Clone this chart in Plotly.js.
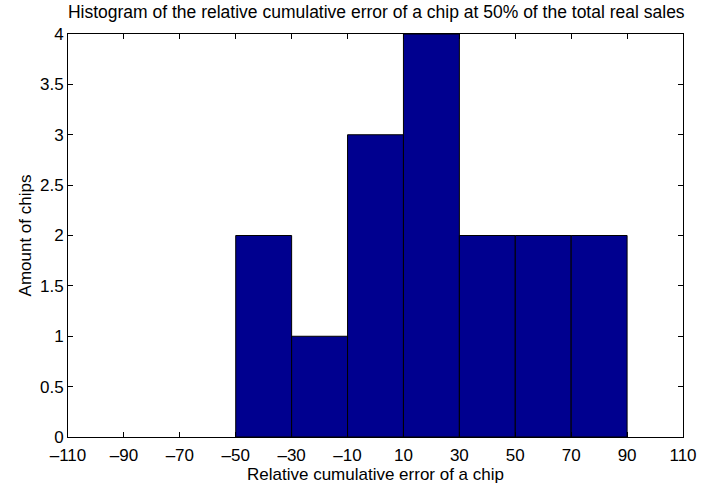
<!DOCTYPE html>
<html><head><meta charset="utf-8">
<script src="https://cdn.plot.ly/plotly-3.0.1.min.js"></script>
<style>html,body{margin:0;padding:0;background:#fff}#c{width:714px;height:489px}</style>
</head><body><div id="c"></div>
<script>
const binCenters = [-40, -20, 0, 20, 40, 60, 80];
const counts = [2, 1, 3, 4, 2, 2, 2];
const xTicks = [-110, -90, -70, -50, -30, -10, 10, 30, 50, 70, 90, 110];
const xTickText = xTicks.map(v => (v < 0 ? '\u2013' + Math.abs(v) : String(v)));
const yTicks = [0, 0.5, 1, 1.5, 2, 2.5, 3, 3.5, 4];

const font = {family: 'Liberation Sans, Arial, sans-serif', size: 17, color: '#000'};
Plotly.newPlot('c', [{
  type: 'bar', x: binCenters, y: counts, width: 20,
  marker: {color: '#00008F', line: {color: '#000', width: 1}},
  hoverinfo: 'none'
}], {
  width: 714, height: 489,
  margin: {l: 68, r: 31, t: 34, b: 52},
  paper_bgcolor: '#fff', plot_bgcolor: '#fff',
  font: font,
  showlegend: false,
  title: {text: 'Histogram of the relative cumulative error of a chip at 50% of the total real sales',
          font: {family: font.family, size: 17.5, color: '#000'}, x: 0.527, xanchor: 'center',
          yref: 'container', y: 0.988, yanchor: 'top'},
  xaxis: {range: [-110, 110], tickvals: xTicks, ticktext: xTickText, ticks: 'inside', ticklen: 5,
          ticklabelstandoff: 3,
          tickcolor: '#000', showline: true, linecolor: '#000', linewidth: 1, mirror: 'ticks',
          showgrid: false, zeroline: false, tickfont: font,
          title: {text: 'Relative cumulative error of a chip', font: font, standoff: 0}},
  yaxis: {range: [0, 4], tickvals: yTicks, ticks: 'inside', ticklen: 5,
          tickcolor: '#000', showline: true, linecolor: '#000', linewidth: 1, mirror: 'ticks',
          showgrid: false, zeroline: false, tickfont: font,
          title: {text: 'Amount of chips', font: font, standoff: 4}}
}, {staticPlot: true});
</script></body></html>
